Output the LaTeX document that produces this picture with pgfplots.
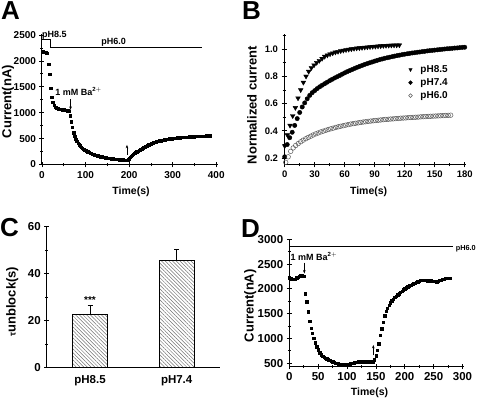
\documentclass[border=0pt]{standalone}
\usepackage{pgfplots}
\pgfplotsset{compat=1.18}
\usepackage{fontspec}
\setmainfont{Liberation Sans}
\usetikzlibrary{patterns.meta,arrows.meta}
\pgfplotsset{
  orig/.style={
    scale only axis,
    anchor=south west,
    axis x line*=bottom, axis y line*=left,
    axis line style={line width=1pt,-},
    tick align=center,
    every tick/.style={line width=0.8pt,black},
    major tick length=5pt, minor tick length=3pt,
    clip=false,
    scaled ticks=false,
    /pgf/number format/assume math mode=true,
    /pgf/number format/1000 sep={},
    tick label style={font=\bfseries\fontsize{10}{12}\selectfont},
    x label style={font=\bfseries\fontsize{10.5}{12}\selectfont, anchor=center},
    y label style={font=\bfseries\fontsize{13}{15}\selectfont, anchor=center},
  },
  sq/.style={only marks, mark=square*, mark size=1.2pt, black},
}
\tikzset{arr/.style={line width=0.5pt,-{Stealth[length=3.5pt,width=2.6pt]}}}
\begin{document}
\begin{tikzpicture}
\useasboundingbox (0,0) rectangle (477pt,401pt);
\node[anchor=base west, inner sep=0, font=\bfseries\fontsize{26}{26}\selectfont] at (1pt,381pt) {A};
\node[anchor=base west, inner sep=0, font=\bfseries\fontsize{26}{26}\selectfont] at (242pt,381pt) {B};
\node[anchor=base west, inner sep=0, font=\bfseries\fontsize{26}{26}\selectfont] at (0pt,164pt) {C};
\node[anchor=base west, inner sep=0, font=\bfseries\fontsize{26}{26}\selectfont] at (241pt,163pt) {D};

% ---------------- A ----------------
\begin{axis}[orig, at={(42pt,236pt)}, width=176pt, height=131pt,
  xmin=0, xmax=404, ymin=-10, ymax=2520,
  xtick={0,100,200,300,400}, ytick={0,500,1000,1500,2000,2500},
  minor x tick num=1, minor y tick num=1,
  xlabel={Time(s)}, ylabel={Current(nA)},
  xlabel style={at={(axis description cs:0.506,-0.206)}},
  ylabel style={at={(axis description cs:-0.193,0.483)}},
]
\addplot[black, line width=0.7pt, mark=none] coordinates {(0,2410) (20,2410) (20,2255) (368,2255)};
\addplot[sq] table {
t v
0 2180
2.5 2175
5 2170
7.5 2165
10 2160
12.5 2150
15 1940
17.5 1745
20 1475
22.5 1300
25 1200
27.5 1140
30 1110
32.5 1095
35 1085
37.5 1078
40 1072
42.5 1067
45 1063
47.5 1059
50 1055
52.5 1051
55 1047
57.5 1042
60 1036
62.5 1025
65 940
67.5 830
70 715
72.5 615
75 545
77.5 490
80 445
82.5 410
85 385
87.5 360
90 338
92.5 318
95 300
97.5 284
100 270
102.5 257
105 245
107.5 234
110 222
112.5 212
115 204
117.5 196
120 188
122.5 181
125 175
127.5 168
130 162
132.5 157
135 151
137.5 147
140 142
142.5 138
145 134
147.5 130
150 126
152.5 122
155 119
157.5 116
160 113
162.5 110
165 107
167.5 105
170 102
172.5 100
175 98
177.5 96
180 94
182.5 92
185 90
187.5 88
190 86
192.5 83
195 80
197.5 92
200 115
202.5 138
205 160
207.5 180
210 200
212.5 218
215 235
217.5 249
220 262
222.5 274
225 285
227.5 296
230 308
232.5 321
235 334
237.5 346
240 358
242.5 370
245 381
247.5 391
250 400
252.5 409
255 417
257.5 425
260 432
262.5 439
265 446
267.5 452
270 458
272.5 463
275 468
277.5 473
280 477
282.5 481
285 485
287.5 489
290 492
292.5 495
295 498
297.5 501
300 504
302.5 506
305 509
307.5 511
310 514
312.5 516
315 518
317.5 520
320 522
322.5 524
325 526
327.5 527
330 529
332.5 531
335 532
337.5 534
340 535
342.5 536
345 538
347.5 539
350 540
352.5 541
355 543
357.5 544
360 545
362.5 546
365 547
367.5 548
370 549
372.5 550
375 551
377.5 552
380 553
382.5 554
385 555
};
\node[anchor=base west, inner sep=0, font=\bfseries\fontsize{9}{10}\selectfont] at (axis cs:0,2460) {pH8.5};
\node[anchor=base west, inner sep=0, font=\bfseries\fontsize{9}{10}\selectfont] at (axis cs:136,2320) {pH6.0};
\node[anchor=base west, inner sep=0, font=\bfseries\fontsize{9}{10}\selectfont] at (axis cs:30,1340) {1 mM Ba$^{\mathbf{2+}}$};
\draw[arr] (axis cs:65.5,1255) -- (axis cs:65.5,1055);
\draw[arr] (axis cs:195,185) -- (axis cs:195,380);
\end{axis}

% ---------------- B ----------------
\begin{axis}[orig, at={(284pt,236pt)}, width=182pt, height=131pt,
  xmin=-0.7, xmax=181.3, ymin=0.15, ymax=1.11,
  xtick={0,30,60,90,120,150,180}, minor x tick num=1,
  ytick={0.2,0.4,0.6,0.8,1.0}, minor ytick={0.3,0.5,0.7,0.9,1.1},
  tick label style={font=\bfseries\fontsize{9.5}{11}\selectfont},
  yticklabel style={/pgf/number format/.cd, fixed, fixed zerofill, precision=1},
  xlabel={Time(s)}, ylabel={Normalized current},
  xlabel style={at={(axis description cs:0.465,-0.206)}},
  ylabel style={at={(axis description cs:-0.176,0.458)}},
  legend style={draw=none, fill=none, at={(axis description cs:0.662,0.785)}, anchor=north west,
    font=\bfseries\fontsize{10}{11}\selectfont, row sep=0.6pt, inner sep=1pt},
  legend cell align=left,
  legend image code/.code={\path[draw=none,fill=none] (0,0) -- (0.45cm,0); \draw[#1, mark size=1.9pt] plot coordinates {(0.17cm,0cm)};},
]
\addplot[only marks, mark=triangle*, mark size=2.7pt, mark options={rotate=180}, black] table {
t v
0 0.29
2.67 0.37
5.33 0.44
8 0.51
10.67 0.57
13.33 0.64
16 0.70
18.67 0.755
21.33 0.80
24 0.835
26.67 0.862
29.33 0.882
32 0.90
34.67 0.915
37.33 0.93
40 0.945
42.67 0.955
45.33 0.963
48 0.970
50.67 0.976
53.33 0.981
56 0.986
58.67 0.990
61.33 0.994
64 0.997
66.67 1.0
69.33 1.003
72 1.006
74.67 1.008
77.33 1.010
80 1.012
82.67 1.014
85.33 1.016
88 1.018
90.67 1.019
93.33 1.021
96 1.022
98.67 1.024
101.33 1.025
104 1.026
106.67 1.027
109.33 1.028
112 1.028
114.67 1.029
};
\addlegendentry{pH8.5}
\addplot[only marks, mark=*, mark size=2.2pt, black] table {
t v
0 0.21
2.5 0.30
5 0.35
7.5 0.39
10 0.44
12.5 0.49
15 0.535
17.5 0.575
20 0.605
22.5 0.635
25 0.66
27.5 0.68
30 0.695
32.5 0.71
35 0.723
37.5 0.735
40 0.746
42.5 0.757
45 0.768
47.5 0.778
50 0.788
52.5 0.797
55 0.806
57.5 0.816
60 0.825
62.5 0.834
65 0.842
67.5 0.85
70 0.858
72.5 0.866
75 0.873
77.5 0.880
80 0.887
82.5 0.893
85 0.899
87.5 0.905
90 0.911
92.5 0.917
95 0.922
97.5 0.927
100 0.932
102.5 0.936
105 0.940
107.5 0.944
110 0.948
112.5 0.952
115 0.955
117.5 0.959
120 0.962
122.5 0.965
125 0.968
127.5 0.971
130 0.973
132.5 0.976
135 0.978
137.5 0.981
140 0.983
142.5 0.986
145 0.988
147.5 0.990
150 0.992
152.5 0.994
155 0.996
157.5 0.998
160 1.0
162.5 1.002
165 1.003
167.5 1.005
170 1.007
172.5 1.008
175 1.010
177.5 1.012
180 1.013
};
\addlegendentry{pH7.4}
\addplot[only marks, mark=o, mark size=2.3pt, mark options={draw=black!65, line width=0.5pt}] table {
t v
1 0.17
3.5 0.21
6 0.25
8.5 0.275
11 0.293
13.5 0.307
16 0.32
18.5 0.332
21 0.342
23.5 0.352
26 0.361
28.5 0.37
31 0.378
33.5 0.385
36 0.392
38.5 0.398
41 0.404
43.5 0.41
46 0.415
48.5 0.42
51 0.425
53.5 0.43
56 0.434
58.5 0.438
61 0.442
63.5 0.446
66 0.45
68.5 0.453
71 0.456
73.5 0.459
76 0.462
78.5 0.465
81 0.467
83.5 0.47
86 0.472
88.5 0.474
91 0.476
93.5 0.478
96 0.48
98.5 0.482
101 0.484
103.5 0.485
106 0.487
108.5 0.488
111 0.49
113.5 0.491
116 0.493
118.5 0.494
121 0.495
123.5 0.497
126 0.498
128.5 0.499
131 0.5
133.5 0.501
136 0.503
138.5 0.504
141 0.505
143.5 0.506
146 0.507
148.5 0.508
151 0.509
153.5 0.51
156 0.511
158.5 0.512
161 0.513
163.5 0.514
166 0.515
};
\addlegendentry{pH6.0}
\end{axis}

% ---------------- C ----------------
\begin{axis}[orig, at={(46.7pt,33.3pt)}, width=173.3pt, height=141pt,
  xmin=-0.5, xmax=1.5, ymin=0, ymax=60,
  xtick={0,1}, xticklabels={pH8.5,pH7.4}, xtick style={draw=none},
  ytick={0,20,40,60}, minor y tick num=1,
  tick label style={font=\bfseries\fontsize{11.5}{13}\selectfont},
  xticklabel style={yshift=-2pt},
  ylabel={{\fontsize{9}{10}\selectfont τ}unblock(s)},
  ylabel style={at={(axis description cs:-0.198,0.468)}},
]
\addplot[ybar, bar width=0.4, draw=black, line width=1pt,
  pattern={Lines[angle=-45,distance=2.6pt,line width=0.5pt]}, pattern color=black!55,
  error bars/.cd, y dir=plus, y explicit,
  error bar style={line width=1pt, black},
  error mark options={rotate=90, mark size=2.5pt, line width=1pt, black}]
  coordinates {(0,22.5) +- (0,4) (1,45.5) +- (0,5)};
\node[anchor=base, inner sep=0, font=\bfseries\fontsize{10}{11}\selectfont] at (axis cs:0,27.2) {***};
\end{axis}

% ---------------- D ----------------
\begin{axis}[orig, at={(289.3pt,34.3pt)}, width=174.4pt, height=127.4pt,
  xmin=0, xmax=302, ymin=430, ymax=3000,
  xtick={0,50,100,150,200,250,300}, minor x tick num=1,
  ytick={500,1000,1500,2000,2500,3000}, minor y tick num=1,
  tick label style={font=\bfseries\fontsize{11.5}{13}\selectfont},
  xlabel={Time(s)}, ylabel={Current(nA)},
  xlabel style={at={(axis description cs:0.46,-0.203)}},
  ylabel style={at={(axis description cs:-0.224,0.478)}},
]
\addplot[black, line width=0.8pt, mark=none] coordinates {(0,2850) (284,2850)};
\addplot[sq] table {
t v
0 2215
2.5 2205
5 2195
7.5 2190
10 2200
12.5 2225
15 2240
17.5 2255
20 2265
22.5 2280
25 2250
27.5 1900
30 1740
32.5 1540
35 1350
37.5 1210
40 1100
42.5 1000
45 915
47.5 830
50 770
52.5 715
55 675
57.5 645
60 622
62.5 603
65 588
67.5 570
70 556
72.5 542
75 528
77.5 516
80 506
82.5 497
85 489
87.5 482
90 476
92.5 471
95 468
97.5 466
100 467
102.5 475
105 488
107.5 498
110 506
112.5 512
115 518
117.5 523
120 528
122.5 531
125 531
127.5 529
130 527
132.5 527
135 528
137.5 529
140 528
142.5 528
145 530
147.5 570
150 650
152.5 760
155 890
157.5 1060
160 1195
162.5 1330
165 1460
167.5 1550
170 1615
172.5 1675
175 1720
177.5 1760
180 1795
182.5 1828
185 1858
187.5 1885
190 1905
192.5 1930
195 1955
197.5 1980
200 2000
202.5 2020
205 2045
207.5 2060
210 2075
212.5 2090
215 2105
217.5 2120
220 2135
222.5 2145
225 2160
227.5 2170
230 2175
232.5 2178
235 2175
237.5 2170
240 2168
242.5 2165
245 2162
247.5 2160
250 2155
252.5 2150
255 2145
257.5 2155
260 2170
262.5 2180
265 2190
267.5 2200
270 2210
272.5 2215
275 2215
277.5 2220
};
\node[anchor=base west, inner sep=0, font=\bfseries\fontsize{9}{10}\selectfont] at (axis cs:2,2580) {1 mM Ba$^{\mathbf{2+}}$};
\node[anchor=base west, inner sep=0, font=\bfseries\fontsize{7.3}{9}\selectfont] at (axis cs:288,2770) {pH6.0};
\draw[arr] (axis cs:26,2530) -- (axis cs:26,2310);
\draw[arr] (axis cs:145.5,660) -- (axis cs:145.5,870);
\end{axis}
\end{tikzpicture}
\end{document}
